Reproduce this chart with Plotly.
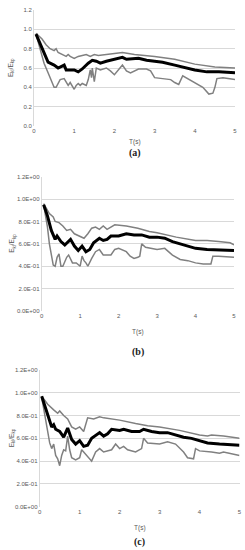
import plotly.graph_objects as go

# ---------------- data ----------------
# panel (a)
a_mean_t = [0.05,0.2,0.35,0.5,0.6,0.7,0.75,0.8,1.0,1.1,1.2,1.35,1.45,1.55,1.65,1.8,2.0,2.1,2.2,2.3,2.5,2.6,2.7,2.8,3.0,3.2,3.5,3.8,4.0,4.3,4.6,5.0]
a_mean_v = [0.95,0.80,0.66,0.63,0.60,0.62,0.63,0.58,0.58,0.56,0.59,0.65,0.68,0.67,0.65,0.67,0.69,0.70,0.71,0.69,0.70,0.70,0.69,0.68,0.67,0.66,0.63,0.60,0.58,0.56,0.56,0.55]
a_up_t = [0.05,0.2,0.3,0.4,0.5,0.55,0.6,0.7,0.8,0.85,0.9,1.0,1.1,1.2,1.3,1.4,1.5,1.6,1.8,2.0,2.2,2.5,2.8,3.0,3.5,4.0,4.5,5.0]
a_up_v = [0.96,0.90,0.84,0.80,0.78,0.80,0.76,0.74,0.72,0.74,0.72,0.70,0.72,0.73,0.74,0.72,0.74,0.73,0.74,0.75,0.76,0.74,0.73,0.72,0.69,0.64,0.61,0.60]
a_lo_t = [0.05,0.15,0.25,0.35,0.45,0.5,0.55,0.65,0.75,0.85,0.9,1.0,1.05,1.1,1.15,1.2,1.3,1.35,1.4,1.43,1.45,1.5,1.55,1.65,1.8,1.9,2.0,2.1,2.2,2.3,2.4,2.6,2.8,2.9,3.0,3.2,3.4,3.5,3.6,3.7,3.9,4.0,4.2,4.35,4.45,4.5,4.55,4.7,5.0]
a_lo_v = [0.95,0.80,0.65,0.55,0.45,0.40,0.40,0.48,0.49,0.42,0.45,0.38,0.42,0.44,0.42,0.44,0.42,0.48,0.58,0.50,0.60,0.46,0.60,0.58,0.60,0.57,0.53,0.58,0.63,0.57,0.55,0.59,0.59,0.57,0.50,0.49,0.48,0.45,0.43,0.52,0.47,0.45,0.40,0.33,0.34,0.40,0.49,0.50,0.48]

# panel (b)
b_mean_t = [0.05,0.15,0.25,0.35,0.4,0.5,0.6,0.7,0.75,0.85,0.95,1.05,1.15,1.25,1.35,1.5,1.6,1.7,1.8,2.0,2.2,2.4,2.6,2.8,3.0,3.2,3.4,3.6,3.8,4.0,4.3,5.0]
b_mean_v = [0.95,0.85,0.72,0.64,0.67,0.62,0.59,0.62,0.64,0.58,0.54,0.58,0.53,0.55,0.61,0.65,0.63,0.64,0.67,0.67,0.69,0.68,0.68,0.66,0.66,0.65,0.62,0.60,0.58,0.56,0.55,0.54]
b_up_t = [0.05,0.2,0.3,0.35,0.45,0.55,0.65,0.75,0.85,1.0,1.1,1.2,1.3,1.4,1.5,1.6,1.7,1.9,2.2,2.5,2.8,3.0,3.5,4.0,4.3,4.6,4.9,5.0]
b_up_v = [0.96,0.87,0.84,0.80,0.79,0.76,0.72,0.73,0.69,0.67,0.65,0.69,0.74,0.75,0.73,0.76,0.73,0.77,0.76,0.74,0.71,0.70,0.66,0.63,0.63,0.62,0.61,0.59]
b_lo_t = [0.05,0.15,0.2,0.3,0.35,0.4,0.45,0.5,0.55,0.65,0.7,0.8,0.9,1.0,1.05,1.1,1.15,1.2,1.3,1.4,1.5,1.6,1.8,1.9,2.0,2.2,2.3,2.4,2.5,2.55,2.6,2.7,3.0,3.2,3.4,3.6,3.8,4.0,4.2,4.4,4.45,4.6,5.0]
b_lo_v = [0.95,0.75,0.60,0.41,0.40,0.48,0.51,0.40,0.40,0.48,0.50,0.43,0.43,0.40,0.49,0.45,0.43,0.40,0.47,0.53,0.55,0.50,0.50,0.55,0.56,0.53,0.49,0.47,0.48,0.49,0.60,0.57,0.55,0.56,0.50,0.46,0.45,0.43,0.42,0.42,0.49,0.49,0.48]

# panel (c)
c_mean_t = [0.05,0.2,0.3,0.35,0.4,0.5,0.6,0.7,0.75,0.8,0.9,1.0,1.1,1.2,1.3,1.45,1.5,1.6,1.7,1.8,2.0,2.1,2.3,2.5,2.6,2.8,3.0,3.2,3.4,3.6,3.8,4.0,4.2,4.5,5.0]
c_mean_v = [0.97,0.82,0.70,0.72,0.68,0.66,0.61,0.69,0.64,0.59,0.55,0.58,0.53,0.54,0.60,0.64,0.65,0.62,0.64,0.68,0.67,0.68,0.66,0.66,0.68,0.66,0.65,0.65,0.63,0.61,0.60,0.58,0.56,0.55,0.54]
c_up_t = [0.05,0.2,0.35,0.45,0.5,0.6,0.7,0.8,0.9,1.0,1.1,1.2,1.35,1.5,1.6,1.8,2.0,2.4,2.7,3.0,3.5,4.0,4.2,4.3,4.6,5.0]
c_up_v = [0.97,0.90,0.85,0.82,0.84,0.80,0.77,0.70,0.68,0.70,0.66,0.78,0.77,0.79,0.78,0.77,0.76,0.73,0.71,0.70,0.67,0.63,0.62,0.63,0.62,0.60]
c_lo_t = [0.05,0.15,0.25,0.3,0.35,0.4,0.45,0.5,0.55,0.6,0.65,0.7,0.75,0.8,0.9,1.0,1.05,1.1,1.2,1.3,1.4,1.5,1.6,1.8,1.9,2.0,2.1,2.2,2.4,2.5,2.55,2.6,2.7,3.0,3.2,3.4,3.6,3.7,3.8,3.85,3.9,4.0,4.3,4.5,4.6,5.0]
c_lo_v = [0.96,0.75,0.56,0.51,0.55,0.45,0.42,0.36,0.45,0.50,0.49,0.62,0.50,0.43,0.41,0.43,0.50,0.48,0.44,0.40,0.48,0.51,0.48,0.50,0.55,0.51,0.53,0.50,0.48,0.50,0.51,0.60,0.56,0.55,0.57,0.55,0.48,0.43,0.42,0.42,0.51,0.49,0.48,0.47,0.48,0.45]

x_ticks = [0, 1, 2, 3, 4, 5]
y_ticks = [0.0, 0.2, 0.4, 0.6, 0.8, 1.0, 1.2]
y_labels_a = ["0.0", "0.2", "0.4", "0.6", "0.8", "1.0", "1.2"]
y_labels_bc = ["0.0E+00", "2.0E-01", "4.0E-01", "6.0E-01", "8.0E-01", "1.0E+00", "1.2E+00"]
captions = ["(a)", "(b)", "(c)"]
x_title = "T(s)"
y_title = "E<sub>kl</sub>/E<sub>kp</sub>"

# ---------------- figure ----------------
W, H = 245, 550
fig = go.Figure()

panels = [
    (a_mean_t, a_mean_v, a_up_t, a_up_v, a_lo_t, a_lo_v, y_labels_a),
    (b_mean_t, b_mean_v, b_up_t, b_up_v, b_lo_t, b_lo_v, y_labels_bc),
    (c_mean_t, c_mean_v, c_up_t, c_up_v, c_lo_t, c_lo_v, y_labels_bc),
]
# pixel boxes in window coordinates: (x0, x1, ytop, ybottom)
boxes = [(34, 235, 10, 126), (41.7, 234, 176.7, 311), (39.7, 239.5, 370, 506.7)]
title_px = [142, 332, 528]
caption_px = [153, 352, 541.5]
ytitle_px = [11, 12, 12]

grey = "#808080"
tick_font = dict(family="Liberation Sans, Arial", size=6, color="#595959")


def px(v):
    return v / W


def py(v):
    return 1 - v / H


for i, (mt, mv, ut, uv, lt, lv, ylab) in enumerate(panels):
    n = "" if i == 0 else str(i + 1)
    xa, ya = "x" + n, "y" + n
    for t, v, col, w in [(ut, uv, grey, 1.5), (lt, lv, grey, 1.5), (mt, mv, "black", 3)]:
        fig.add_trace(go.Scatter(x=t, y=v, mode="lines", xaxis=xa, yaxis=ya,
                                 line=dict(color=col, width=w), showlegend=False,
                                 hoverinfo="skip"))
    x0, x1, yt, yb = boxes[i]
    fig.layout["xaxis" + n] = dict(
        domain=[px(x0), px(x1)], anchor=ya, range=[0, 5],
        tickvals=x_ticks, ticks="", showgrid=False, zeroline=False,
        showline=False, tickfont=tick_font, automargin=False,
        ticklabeloverflow="allow",
    )
    fig.layout["yaxis" + n] = dict(
        domain=[py(yb), py(yt)], anchor=xa, range=[0, 1.2],
        tickvals=y_ticks, ticktext=ylab, ticks="", showgrid=True,
        gridcolor="#d9d9d9", gridwidth=1, zeroline=False,
        showline=True, linecolor="#d9d9d9", linewidth=1, tickfont=tick_font,
        automargin=False, ticklabeloverflow="allow",
    )
    # x title
    fig.add_annotation(text=x_title, x=px((x0 + x1) / 2), y=py(title_px[i]),
                       xref="paper", yref="paper", showarrow=False,
                       xanchor="center", yanchor="middle",
                       font=dict(family="Liberation Sans, Arial", size=6.5, color="#595959"))
    # y title
    fig.add_annotation(text=y_title, x=px(ytitle_px[i]), y=py((yt + yb) / 2),
                       xref="paper", yref="paper", showarrow=False, textangle=-90,
                       xanchor="center", yanchor="middle",
                       font=dict(family="Liberation Sans, Arial", size=6.5, color="#595959"))
    # caption
    fig.add_annotation(text="<b>" + captions[i] + "</b>", x=px((x0 + x1) / 2),
                       y=py(caption_px[i]), xref="paper", yref="paper",
                       showarrow=False, xanchor="center", yanchor="middle",
                       font=dict(family="Liberation Serif, Times New Roman", size=10, color="#222222"))

fig.update_layout(width=W, height=H, margin=dict(l=0, r=0, t=0, b=0),
                  plot_bgcolor="white", paper_bgcolor="white")

# remove the default page margin so the 245x550 figure fills the window exactly
fig.write_html(
    "out.html",
    config={"displayModeBar": False},
    post_script="document.body.style.margin='0';"
                "document.documentElement.style.overflow='hidden';",
)
